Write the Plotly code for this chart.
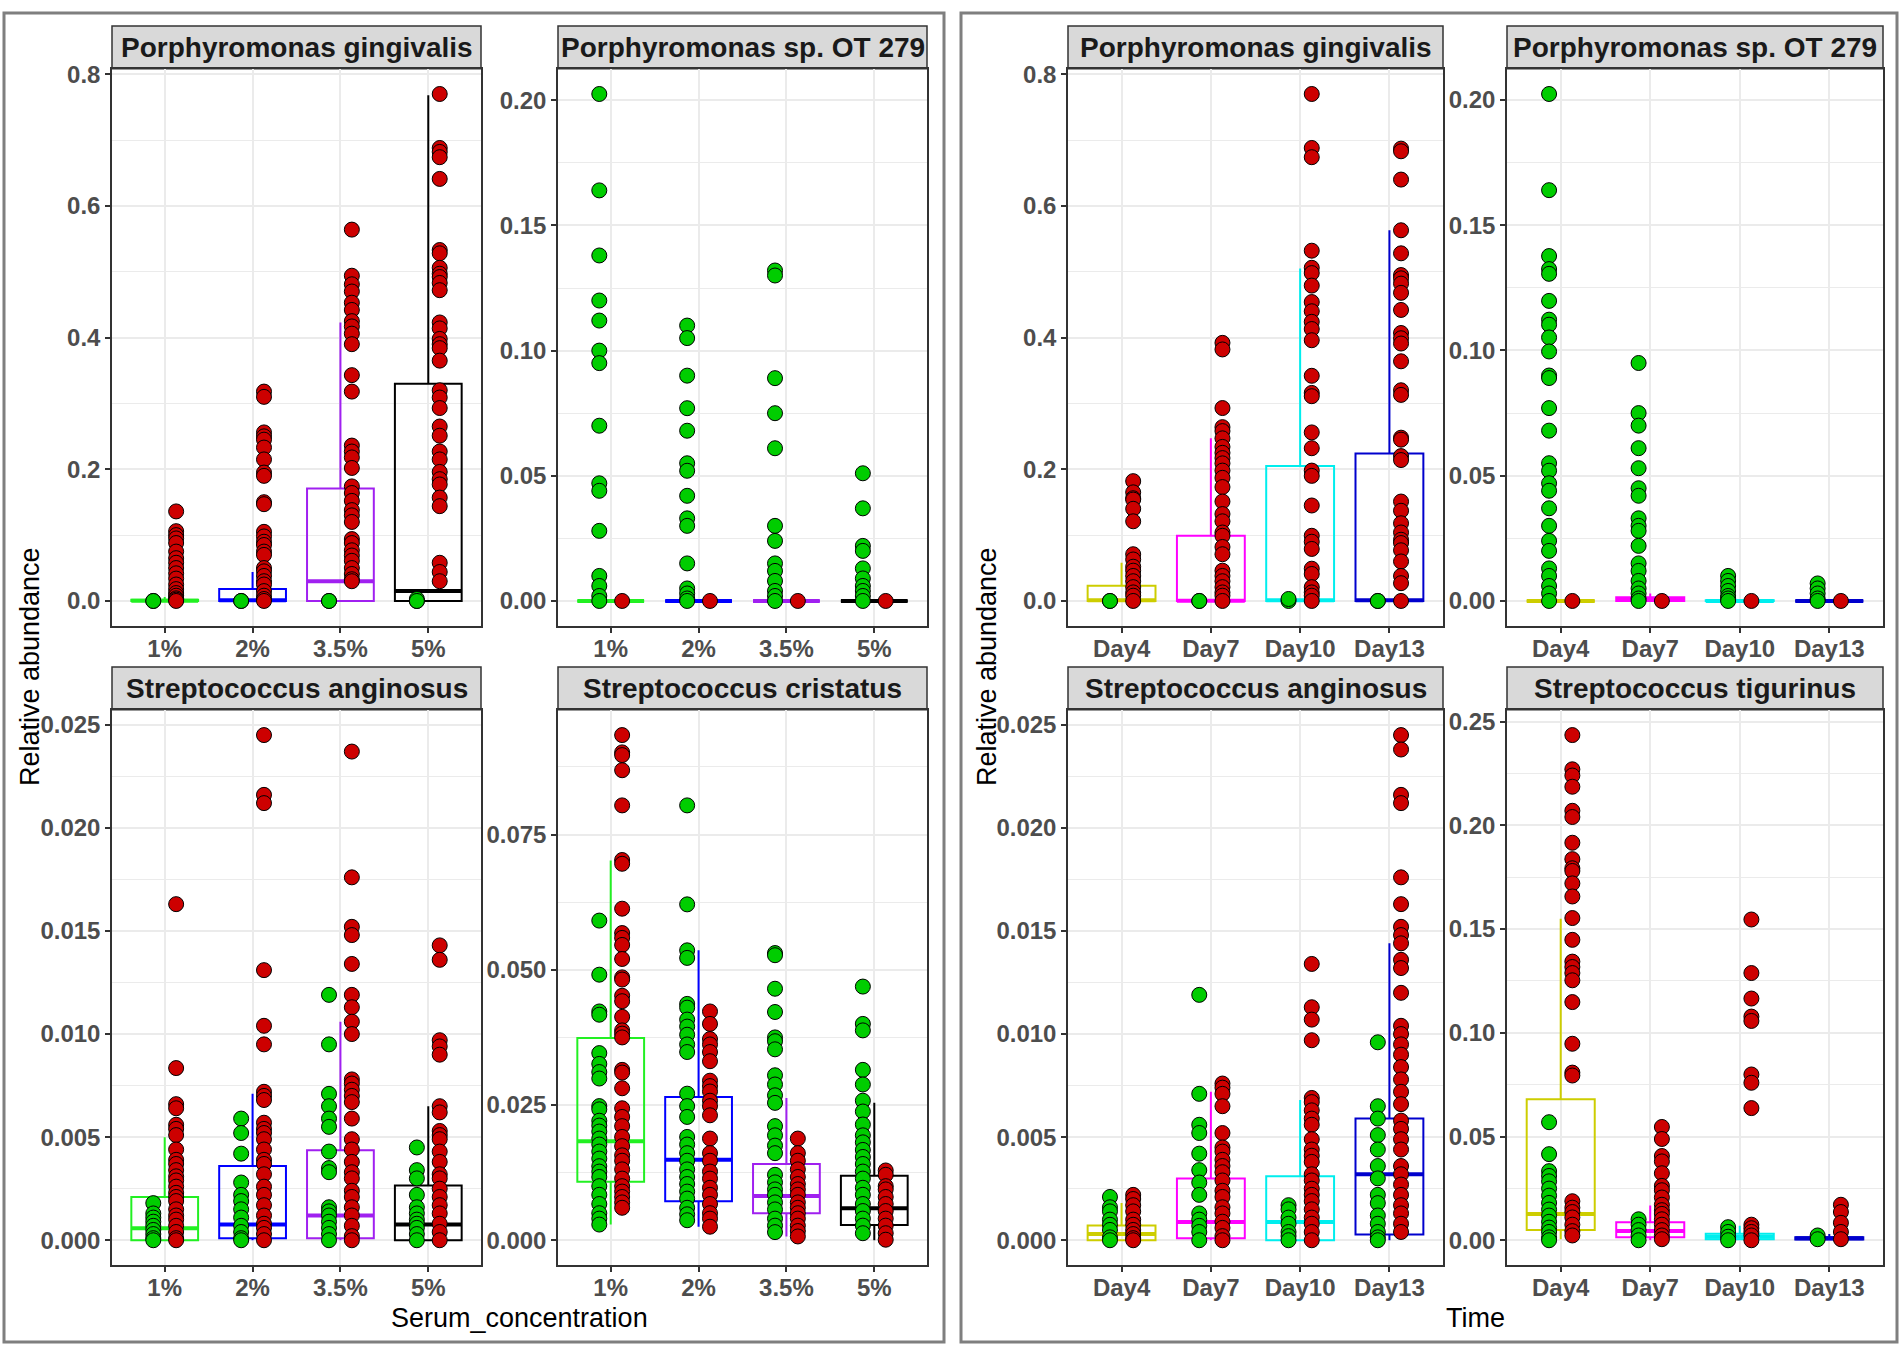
import plotly.graph_objects as go

serum_levels = ["1%", "2%", "3.5%", "5%"]
time_levels = ["Day4", "Day7", "Day10", "Day13"]

serum_colors = ["#22F022", "#0000FF", "#A020F0", "#000000"]
time_colors = ["#CDCD00", "#FF00FF", "#00EEEE", "#0000CD"]

# box stats per category: lower whisker, q1, median, q3, upper whisker

# ---- Serum_concentration ----
pg_serum_green = [[0, 0], [0, 0], [0, 0], [0, 0.003, 0]]
pg_serum_red = [
    [0.136, 0.106, 0.100, 0.095, 0.088, 0.075, 0.065, 0.058, 0.050, 0.042, 0.034, 0.025, 0.018, 0.012, 0.008, 0.004, 0.002, 0],
    [0.318, 0.310, 0.256, 0.250, 0.245, 0.233, 0.215, 0.195, 0.190, 0.150, 0.147, 0.105, 0.098, 0.090, 0.085, 0.075, 0.070,
     0.050, 0.045, 0.038, 0.030, 0.025, 0.015, 0.008, 0.003, 0],
    [0.564, 0.494, 0.481, 0.470, 0.453, 0.442, 0.425, 0.417, 0.406, 0.390, 0.343, 0.318, 0.236, 0.227, 0.218, 0.202, 0.174,
     0.164, 0.152, 0.138, 0.130, 0.120, 0.094, 0.088, 0.077, 0.069, 0.061, 0.050, 0.041, 0.033, 0.030],
    [0.770, 0.688, 0.682, 0.674, 0.641, 0.533, 0.528, 0.506, 0.497, 0.492, 0.483, 0.472, 0.423, 0.414, 0.398, 0.390, 0.384,
     0.365, 0.320, 0.309, 0.293, 0.265, 0.251, 0.227, 0.215, 0.196, 0.185, 0.177, 0.157, 0.144, 0.058, 0.044, 0.030],
]
pg_serum_box = [[0, 0, 0.0005, 0.002, 0.006], [0, 0, 0.001, 0.018, 0.044],
                [0, 0, 0.030, 0.171, 0.423], [0, 0, 0.015, 0.330, 0.768]]

po_serum_green = [
    [0.2025, 0.164, 0.138, 0.120, 0.112, 0.100, 0.095, 0.070, 0.047, 0.044, 0.028, 0.010, 0.006, 0.002, 0],
    [0.110, 0.105, 0.090, 0.077, 0.068, 0.055, 0.052, 0.042, 0.033, 0.030, 0.015, 0.005, 0.003, 0.001, 0],
    [0.132, 0.130, 0.089, 0.075, 0.061, 0.030, 0.024, 0.015, 0.012, 0.008, 0.004, 0.002, 0],
    [0.051, 0.037, 0.022, 0.020, 0.013, 0.009, 0.006, 0.004, 0.002, 0],
]
po_serum_red = [[0], [0], [0], [0]]
po_serum_box = [[0, 0, 0, 0, 0], [0, 0, 0, 0, 0], [0, 0, 0, 0, 0], [0, 0, 0, 0, 0]]

sa_serum_green = [
    [0.0018, 0.0013, 0.0011, 0.0009, 0.0007, 0.0005, 0.0003, 0.0001, 0],
    [0.0059, 0.0052, 0.0042, 0.0028, 0.0022, 0.0019, 0.0015, 0.0011, 0.0007, 0.0004, 0.0001, 0],
    [0.0119, 0.0095, 0.0071, 0.0065, 0.0059, 0.0055, 0.0043, 0.0035, 0.0033, 0.0016, 0.0014, 0.0012, 0.0009, 0.0006, 0.0003, 0],
    [0.0045, 0.0034, 0.0030, 0.0022, 0.0016, 0.0013, 0.0010, 0.0008, 0.0006, 0.0003, 0],
]
sa_serum_red = [
    [0.0163, 0.00835, 0.0066, 0.0064, 0.0056, 0.0054, 0.0051, 0.0044, 0.0039, 0.0037, 0.0034, 0.0031, 0.0029, 0.0026,
     0.0023, 0.0021, 0.0019, 0.0015, 0.0012, 0.0010, 0.0007, 0.0004, 0.0001, 0],
    [0.0245, 0.0216, 0.0212, 0.0131, 0.0104, 0.0095, 0.0072, 0.0070, 0.0068, 0.0057, 0.0054, 0.0052, 0.0049, 0.0044,
     0.0039, 0.0037, 0.0032, 0.0026, 0.0022, 0.0017, 0.0012, 0.0008, 0.0006, 0.0003, 0],
    [0.0237, 0.0176, 0.0152, 0.0148, 0.0134, 0.0119, 0.0113, 0.0106, 0.0100, 0.0078, 0.0076, 0.0073, 0.0070, 0.0067,
     0.0059, 0.0049, 0.0044, 0.0038, 0.0033, 0.0030, 0.0024, 0.0021, 0.0016, 0.0012, 0.0007, 0.0002, 0],
    [0.0143, 0.0136, 0.0097, 0.0094, 0.0090, 0.0065, 0.0062, 0.0053, 0.0051, 0.0049, 0.0043, 0.0038, 0.0032, 0.0030,
     0.0025, 0.0021, 0.0017, 0.0013, 0.0008, 0.0004, 0],
]
sa_serum_box = [[0, 0, 0.00058, 0.0021, 0.0050], [0, 0.0001, 0.00076, 0.0036, 0.0071],
                [0, 0.0001, 0.0012, 0.00436, 0.0106], [0, 0, 0.00076, 0.00265, 0.0065]]

sc_serum_green = [
    [0.0591, 0.0491, 0.0423, 0.0417, 0.0346, 0.0326, 0.0311, 0.0299, 0.0248, 0.0242, 0.0221, 0.0212, 0.0201, 0.0188,
     0.0177, 0.0164, 0.0151, 0.0137, 0.0127, 0.0117, 0.0100, 0.0084, 0.0067, 0.0050, 0.0040, 0.0029],
    [0.0804, 0.0621, 0.0536, 0.0522, 0.0437, 0.0430, 0.0408, 0.0395, 0.0380, 0.0362, 0.0348, 0.0271, 0.0248, 0.0228,
     0.0191, 0.0177, 0.0161, 0.0147, 0.0131, 0.0117, 0.0104, 0.0090, 0.0077, 0.0060, 0.0048, 0.0037],
    [0.0531, 0.0527, 0.0465, 0.0422, 0.0375, 0.0368, 0.0353, 0.0305, 0.0288, 0.0268, 0.0254, 0.0211, 0.0194, 0.0175,
     0.0161, 0.0121, 0.0107, 0.0094, 0.0084, 0.0070, 0.0057, 0.0040, 0.0027, 0.0015],
    [0.0469, 0.0400, 0.0388, 0.0315, 0.0288, 0.0258, 0.0238, 0.0214, 0.0194, 0.0181, 0.0167, 0.0154, 0.0141, 0.0127,
     0.0114, 0.0097, 0.0084, 0.0067, 0.0054, 0.0040, 0.0027, 0.0013],
]
sc_serum_red = [
    [0.0934, 0.0902, 0.0897, 0.0869, 0.0804, 0.0703, 0.0696, 0.0613, 0.0568, 0.0559, 0.0546, 0.0520, 0.0486, 0.0482,
     0.0452, 0.0442, 0.0413, 0.0388, 0.0382, 0.0375, 0.0315, 0.0310, 0.0281, 0.0244, 0.0228, 0.0211, 0.0191, 0.0174,
     0.0157, 0.0147, 0.0131, 0.0114, 0.0100, 0.0090, 0.0080, 0.0070, 0.0060],
    [0.0423, 0.0400, 0.0372, 0.0362, 0.0348, 0.0331, 0.0295, 0.0285, 0.0275, 0.0258, 0.0248, 0.0231, 0.0188, 0.0161,
     0.0147, 0.0127, 0.0114, 0.0097, 0.0084, 0.0067, 0.0050, 0.0040, 0.0025],
    [0.0188, 0.0161, 0.0147, 0.0131, 0.0117, 0.0104, 0.0094, 0.0084, 0.0070, 0.0060, 0.0050, 0.0040, 0.0027, 0.0017, 0.0007],
    [0.0129, 0.0121, 0.0100, 0.0094, 0.0080, 0.0067, 0.0054, 0.0040, 0.0027, 0.0013, 0.0001],
]
sc_serum_box = [[0.0029, 0.0108, 0.0183, 0.0374, 0.0702], [0.0025, 0.0072, 0.0149, 0.0265, 0.0536],
                [0.0007, 0.0050, 0.0082, 0.0141, 0.0263], [0, 0.0028, 0.0059, 0.0119, 0.0254]]

# ---- Time ----
pg_time_green = [[0, 0], [0, 0], [0, 0.003], [0, 0]]
pg_time_red = [
    [0.182, 0.165, 0.156, 0.154, 0.140, 0.121, 0.071, 0.063, 0.052, 0.046, 0.038, 0.030, 0.021, 0.013, 0.008, 0],
    [0.392, 0.382, 0.293, 0.264, 0.258, 0.247, 0.234, 0.225, 0.217, 0.209, 0.198, 0.187, 0.173, 0.151, 0.132, 0.121,
     0.104, 0.099, 0.082, 0.071, 0.046, 0.038, 0.030, 0.021, 0.013, 0.008, 0],
    [0.770, 0.688, 0.674, 0.532, 0.506, 0.498, 0.479, 0.454, 0.440, 0.424, 0.413, 0.396, 0.342, 0.316, 0.311, 0.256,
     0.232, 0.198, 0.190, 0.145, 0.099, 0.090, 0.079, 0.049, 0.041, 0.021, 0.013, 0.008, 0],
    [0.687, 0.683, 0.640, 0.563, 0.528, 0.495, 0.490, 0.482, 0.468, 0.442, 0.407, 0.399, 0.391, 0.364, 0.320, 0.313,
     0.248, 0.245, 0.220, 0.214, 0.151, 0.137, 0.118, 0.104, 0.093, 0.088, 0.077, 0.060, 0.038, 0.027, 0],
]
pg_time_box = [[0, 0, 0.001, 0.023, 0.058], [0, 0, 0.0005, 0.099, 0.247],
               [0, 0, 0.001, 0.205, 0.505], [0, 0, 0.001, 0.224, 0.563]]

po_time_green = [
    [0.2024, 0.164, 0.1377, 0.1325, 0.1306, 0.1198, 0.1123, 0.1103, 0.1052, 0.0996, 0.090, 0.089, 0.077, 0.068, 0.055,
     0.052, 0.047, 0.044, 0.037, 0.030, 0.024, 0.020, 0.013, 0.010, 0.006, 0.003, 0],
    [0.095, 0.075, 0.070, 0.061, 0.053, 0.045, 0.042, 0.033, 0.030, 0.028, 0.022, 0.015, 0.012, 0.008, 0.005, 0.003, 0.001, 0],
    [0.010, 0.008, 0.006, 0.004, 0.002, 0.001, 0],
    [0.007, 0.005, 0.003, 0.001, 0],
]
po_time_red = [[0], [0], [0], [0]]
po_time_box = [[0, 0, 0, 0, 0.0005], [0, 0, 0.0005, 0.0015, 0.003], [0, 0, 0, 0.0003, 0.0006], [0, 0, 0, 0, 0]]

sa_time_green = [
    [0.0021, 0.0016, 0.0014, 0.0010, 0.00075, 0.0005, 0.00014, 0],
    [0.0119, 0.0071, 0.0056, 0.0052, 0.0042, 0.0034, 0.0028, 0.0022, 0.0013, 0.0010, 0.0007, 0.0004, 0],
    [0.0017, 0.0015, 0.0011, 0.0008, 0.0004, 0.0002, 0],
    [0.0096, 0.0065, 0.0059, 0.0051, 0.0044, 0.0036, 0.0030, 0.0022, 0.0018, 0.0012, 0.0008, 0.0004, 0.00014, 0],
]
sa_time_red = [
    [0.0022, 0.0020, 0.0017, 0.0014, 0.0010, 0.00075, 0.0005, 0.0003, 0.0001, 0],
    [0.0076, 0.0074, 0.0071, 0.0065, 0.0052, 0.0045, 0.0043, 0.0039, 0.0036, 0.0033, 0.0029, 0.0024, 0.0021, 0.0016,
     0.0013, 0.0009, 0.0006, 0.0002, 0],
    [0.0134, 0.0113, 0.0107, 0.0097, 0.0069, 0.0067, 0.0063, 0.0059, 0.0056, 0.0049, 0.0044, 0.0041, 0.0038, 0.0032,
     0.0029, 0.0025, 0.0022, 0.0019, 0.0015, 0.0011, 0.0008, 0.0004, 0],
    [0.0245, 0.0238, 0.0216, 0.0212, 0.0176, 0.0163, 0.0152, 0.0148, 0.0144, 0.0136, 0.0132, 0.0120, 0.0104, 0.0100,
     0.0095, 0.0090, 0.0084, 0.0078, 0.0072, 0.0066, 0.0058, 0.0054, 0.0049, 0.0044, 0.0036, 0.0032, 0.0027, 0.0022,
     0.0017, 0.0013, 0.0008, 0.0004],
]
sa_time_box = [[0, 0, 0.0003, 0.00072, 0.0018], [0, 0.0001, 0.00088, 0.0030, 0.0072],
               [0, 0, 0.00088, 0.0031, 0.0068], [0, 0.00028, 0.0032, 0.0059, 0.0144]]

st_time_green = [
    [0.0569, 0.0415, 0.0333, 0.0310, 0.0284, 0.0249, 0.0215, 0.0180, 0.0148, 0.0119, 0.0089, 0.0061, 0.0040, 0.0014, 0],
    [0.0101, 0.0075, 0.0049, 0.0023, 0],
    [0.0063, 0.0040, 0.0017, 0],
    [0.0023, 0.0005],
]
st_time_red = [
    [0.2435, 0.2270, 0.2240, 0.2186, 0.2070, 0.2040, 0.1916, 0.1837, 0.1793, 0.1780, 0.1720, 0.1657, 0.1553, 0.1448,
     0.1343, 0.1317, 0.1288, 0.1253, 0.1148, 0.0947, 0.0808, 0.0794, 0.0188, 0.0157, 0.0136, 0.0110, 0.0075, 0.0044, 0.0023],
    [0.0546, 0.0488, 0.0406, 0.0380, 0.0323, 0.0262, 0.0241, 0.0206, 0.0171, 0.0145, 0.0127, 0.0101, 0.0075, 0.0049,
     0.0023, 0.0005],
    [0.1546, 0.1288, 0.1165, 0.1078, 0.1057, 0.0799, 0.0759, 0.0637, 0.0075, 0.0058, 0.0040, 0.0023, 0],
    [0.0171, 0.0136, 0.0084, 0.0040, 0.0005],
]
st_time_box = [[0.0005, 0.0049, 0.0127, 0.068, 0.155], [0, 0.0014, 0.0044, 0.0087, 0.0167],
               [0, 0.0005, 0.0017, 0.0031, 0.007], [0, 0.0003, 0.0009, 0.0014, 0.003]]

W, H = 1902, 1349
FONT = "Liberation Sans, Arial, sans-serif"


def px(x):
    return x / W


def py(y):
    return 1 - y / H


top_row = (61, 622)
bot_row = (706, 1265)
left_cols = [(112, 481), (558, 927)]
right_cols = [(1068, 1443), (1507, 1883)]

panels = [
    ("Porphyromonas gingivalis", pg_serum_green, pg_serum_red, pg_serum_box, serum_levels, serum_colors, left_cols[0], top_row, 0.2, ".1f"),
    ("Porphyromonas sp. OT 279", po_serum_green, po_serum_red, po_serum_box, serum_levels, serum_colors, left_cols[1], top_row, 0.05, ".2f"),
    ("Streptococcus anginosus", sa_serum_green, sa_serum_red, sa_serum_box, serum_levels, serum_colors, left_cols[0], bot_row, 0.005, ".3f"),
    ("Streptococcus cristatus", sc_serum_green, sc_serum_red, sc_serum_box, serum_levels, serum_colors, left_cols[1], bot_row, 0.025, ".3f"),
    ("Porphyromonas gingivalis", pg_time_green, pg_time_red, pg_time_box, time_levels, time_colors, right_cols[0], top_row, 0.2, ".1f"),
    ("Porphyromonas sp. OT 279", po_time_green, po_time_red, po_time_box, time_levels, time_colors, right_cols[1], top_row, 0.05, ".2f"),
    ("Streptococcus anginosus", sa_time_green, sa_time_red, sa_time_box, time_levels, time_colors, right_cols[0], bot_row, 0.005, ".3f"),
    ("Streptococcus tigurinus", st_time_green, st_time_red, st_time_box, time_levels, time_colors, right_cols[1], bot_row, 0.05, ".2f"),
]

fig = go.Figure()
shapes = []
annotations = []
axes = {}
BW = 0.76     # box width
DODGE = 0.13  # green left, red right

for k, (title, green, red, box, labels, colors, xcol, yrow, dtick, fmt) in enumerate(panels, start=1):
    xa = "x" if k == 1 else f"x{k}"
    ya = "y" if k == 1 else f"y{k}"
    n = len(labels)

    for i in range(n):
        lo, q1, med, q3, hi = box[i]
        fig.add_trace(go.Box(
            x=[i + 1], q1=[q1], median=[med], q3=[q3], lowerfence=[lo], upperfence=[hi],
            width=BW, whiskerwidth=0, boxpoints=False, fillcolor="rgba(0,0,0,0)",
            line=dict(color=colors[i], width=2), xaxis=xa, yaxis=ya,
            showlegend=False, hoverinfo="skip"))
        fig.add_trace(go.Scatter(
            x=[i + 1 - BW / 2, i + 1 + BW / 2], y=[med, med], mode="lines",
            line=dict(color=colors[i], width=4), xaxis=xa, yaxis=ya,
            showlegend=False, hoverinfo="skip"))

    for vals, fill, off in ((green, "#00CD00", -DODGE), (red, "#CD0000", DODGE)):
        xs, ys = [], []
        for i, col in enumerate(vals):
            xs += [i + 1 + off] * len(col)
            ys += col
        fig.add_trace(go.Scatter(
            x=xs, y=ys, mode="markers",
            marker=dict(size=15, color=fill, line=dict(color="black", width=1)),
            xaxis=xa, yaxis=ya, showlegend=False, hoverinfo="skip"))

    allv = [v for col in green + red for v in col] + [v for b in box for v in b]
    vmin, vmax = min(allv), max(allv)
    pad = 0.05 * (vmax - vmin)

    common = dict(showline=True, mirror=True, linecolor="#333333", linewidth=1.5,
                  ticks="outside", ticklen=5, tickwidth=1.5, tickcolor="#333333",
                  zeroline=False, gridcolor="#EBEBEB", gridwidth=2,
                  tickfont=dict(family=FONT, size=24, color="#4D4D4D", weight="bold"))
    axes["xaxis" if k == 1 else f"xaxis{k}"] = dict(
        common, domain=[px(xcol[0]), px(xcol[1])], anchor=ya, ticklabelstandoff=-5,
        range=[0.4, n + 0.6], tickmode="array", tickvals=list(range(1, n + 1)), ticktext=labels)
    axes["yaxis" if k == 1 else f"yaxis{k}"] = dict(
        common, domain=[py(yrow[1]), py(yrow[0])], anchor=xa,
        range=[vmin - pad, vmax + pad], tickmode="linear", tick0=0, dtick=dtick, tickformat=fmt,
        minor=dict(tick0=0, dtick=dtick / 2, showgrid=True, gridcolor="#EBEBEB", gridwidth=1, ticks=""))

    strip_top = yrow[0] - 43
    shapes.append(dict(type="rect", xref="paper", yref="paper",
                       x0=px(xcol[0]), x1=px(xcol[1]), y0=py(yrow[0]), y1=py(strip_top),
                       fillcolor="#D9D9D9", line=dict(color="#333333", width=1.5), layer="below"))
    annotations.append(dict(text=title, xref="paper", yref="paper",
                            x=px((xcol[0] + xcol[1]) / 2), y=py((yrow[0] + strip_top) / 2),
                            xanchor="center", yanchor="middle", showarrow=False,
                            font=dict(family=FONT, size=28, color="#1A1A1A", weight="bold")))

# outer frames of the two halves
for x0, x1 in ((4, 944), (961, 1897)):
    shapes.append(dict(type="rect", xref="paper", yref="paper",
                       x0=px(x0), x1=px(x1), y0=py(1342), y1=py(5),
                       line=dict(color="#7F7F7F", width=3), fillcolor="rgba(0,0,0,0)"))

title_font = dict(family=FONT, size=27, color="black")
for x in (30, 987):
    annotations.append(dict(text="Relative abundance", xref="paper", yref="paper",
                            x=px(x), y=py(663), textangle=-90, showarrow=False,
                            xanchor="center", yanchor="middle", font=title_font))
annotations.append(dict(text="Serum_concentration", xref="paper", yref="paper",
                        x=px(519.5), y=py(1318), showarrow=False,
                        xanchor="center", yanchor="middle", font=title_font))
annotations.append(dict(text="Time", xref="paper", yref="paper",
                        x=px(1475.5), y=py(1318), showarrow=False,
                        xanchor="center", yanchor="middle", font=title_font))

fig.update_layout(
    width=W, height=H, margin=dict(l=0, r=0, t=0, b=0),
    paper_bgcolor="white", plot_bgcolor="white",
    boxmode="overlay", shapes=shapes, annotations=annotations,
    **axes)

# drop the default page margin so the figure sits at the window's corner
fig.write_html("out.html", config={"displayModeBar": False},
               post_script="document.body.style.margin='0px';document.body.style.overflow='hidden';")
